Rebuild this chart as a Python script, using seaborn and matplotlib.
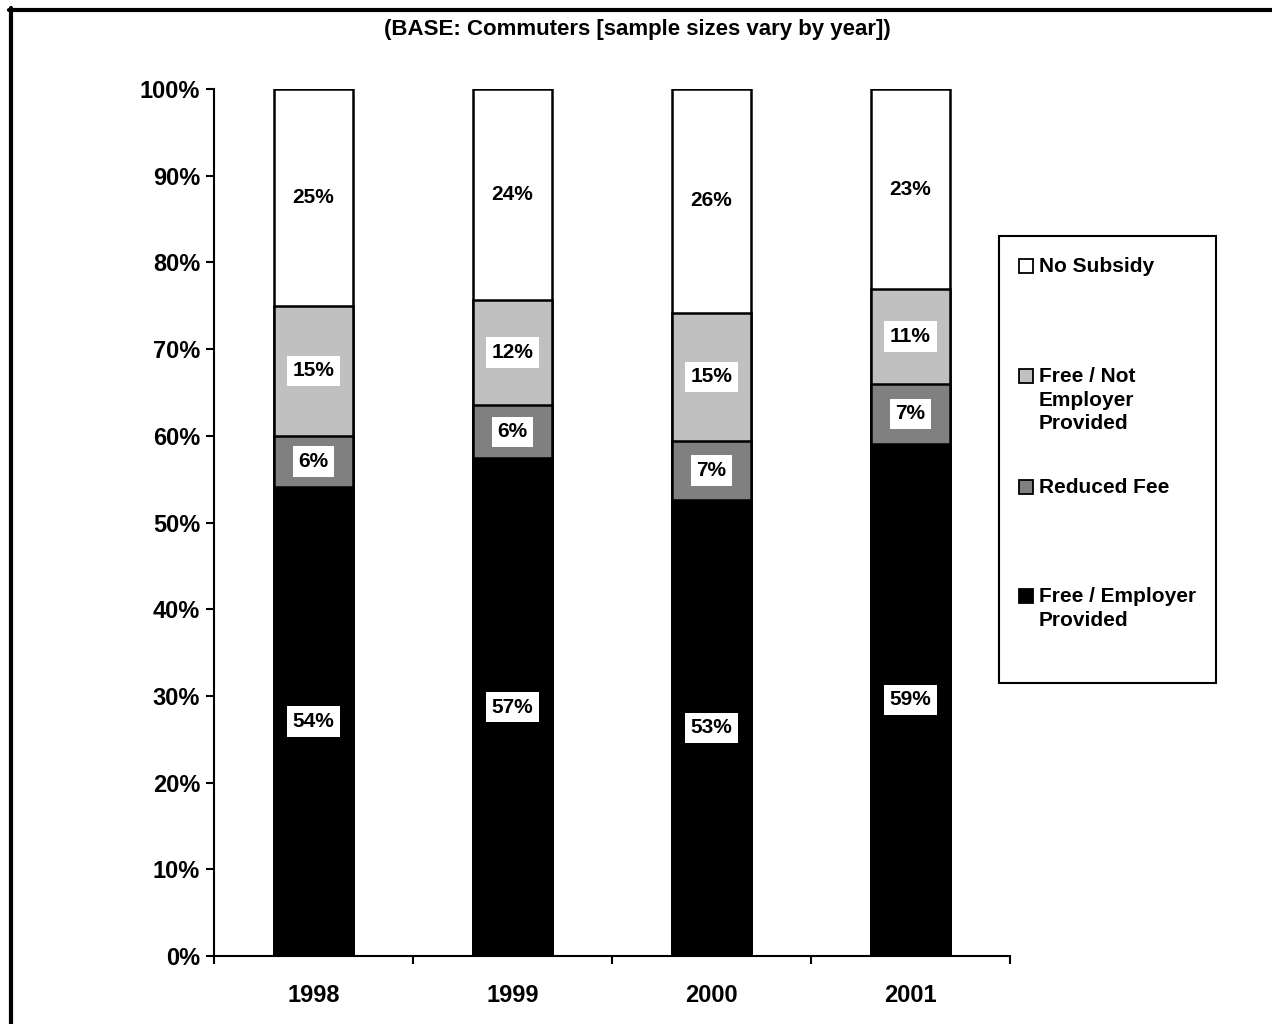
import numpy as np
import pandas as pd
import matplotlib
matplotlib.use('Agg')
import matplotlib.pyplot as plt
import seaborn as sns
from matplotlib.patches import Rectangle
from matplotlib.lines import Line2D

years = ['1998', '1999', '2000', '2001']
free_employer = [54.1, 57.4, 52.6, 59.1]
reduced_fee = [5.9, 6.1, 6.8, 6.9]
free_not_employer = [15.0, 12.2, 14.8, 10.9]
no_subsidy = [25.0, 24.3, 25.8, 23.1]

series_names = ['Free / Employer\nProvided', 'Reduced Fee',
                'Free / Not\nEmployer\nProvided', 'No Subsidy']
series_vals = [free_employer, reduced_fee, free_not_employer, no_subsidy]
colors = ['#000000', '#808080', '#c0c0c0', '#ffffff']

sns.set_style('white')
plt.rcParams['font.family'] = ['Liberation Sans', 'DejaVu Sans']
plt.rcParams['font.weight'] = 'bold'
plt.rcParams['text.color'] = 'black'
plt.rcParams['xtick.color'] = 'black'
plt.rcParams['ytick.color'] = 'black'

W, H = 1272, 1024
fig = plt.figure(figsize=(W / 100, H / 100), dpi=100)
ax = fig.add_axes([214 / W, 68 / H, 796 / W, 867 / H])

# stacked bars: draw cumulative totals from the top down
cum = np.cumsum(np.array(series_vals), axis=0)
for i in range(len(series_vals) - 1, -1, -1):
    df = pd.DataFrame({'year': years, 'value': cum[i]})
    sns.barplot(data=df, x='year', y='value', color=colors[i], saturation=1,
                edgecolor='black', linewidth=1.8, width=0.4, ax=ax)

# value labels
for i, vals in enumerate(series_vals):
    for j, v in enumerate(vals):
        mid = cum[i][j] - v / 2
        box = dict(facecolor='white', edgecolor='none', pad=4) if i < 3 else None
        ax.text(j, mid, f'{round(v):.0f}%', ha='center', va='center',
                fontsize=15, fontweight='bold', color='black', bbox=box)

ax.set_ylim(0, 100)
ax.set_xlim(-0.5, 3.5)
ax.set_yticks(np.arange(0, 101, 10))
ax.set_yticklabels([f'{t}%' for t in range(0, 101, 10)], fontsize=17, fontweight='bold')
ax.set_xticks(range(4))
ax.set_xticklabels(years, fontsize=17, fontweight='bold')
ax.set_xticks(np.arange(-0.5, 4, 1), minor=True)
ax.tick_params(axis='x', which='major', bottom=True, length=0, pad=20)
ax.tick_params(axis='x', which='minor', bottom=True, length=6, width=1.5, direction='out')
ax.tick_params(axis='y', left=True, length=6, width=1.5, direction='out', pad=4)
ax.set_xlabel('')
ax.set_ylabel('')
for s in ['top', 'right']:
    ax.spines[s].set_visible(False)
for s in ['left', 'bottom']:
    ax.spines[s].set_color('black')
    ax.spines[s].set_linewidth(1.5)

fig.text(637 / W, 1 - 29 / H, '(BASE: Commuters [sample sizes vary by year])',
         ha='center', va='center', fontsize=16, fontweight='bold')

# legend box, drawn by hand to keep Excel-like spacing
fig.add_artist(Rectangle((999 / W, 1 - 683 / H), 217 / W, 447 / H, transform=fig.transFigure,
                         facecolor='white', edgecolor='black', linewidth=1.5))
entry_y = [596, 487, 376, 266]
for i in range(4):
    yc = entry_y[i]
    fig.add_artist(Rectangle((1019 / W, 1 - (yc + 7) / H), 14 / W, 14 / H,
                             transform=fig.transFigure, facecolor=colors[i],
                             edgecolor='black', linewidth=1.3))
    fig.text(1039 / W, 1 - (yc - 9) / H, series_names[i], ha='left', va='top',
             fontsize=15, fontweight='bold', linespacing=1.3)

# figure border (top and left)
fig.add_artist(Line2D([9 / W, 1], [1 - 10 / H, 1 - 10 / H], color='black',
                      linewidth=3, transform=fig.transFigure))
fig.add_artist(Line2D([11 / W, 11 / W], [0, 1 - 8 / H], color='black',
                      linewidth=3, transform=fig.transFigure))

fig.savefig('out.png', dpi=100)
